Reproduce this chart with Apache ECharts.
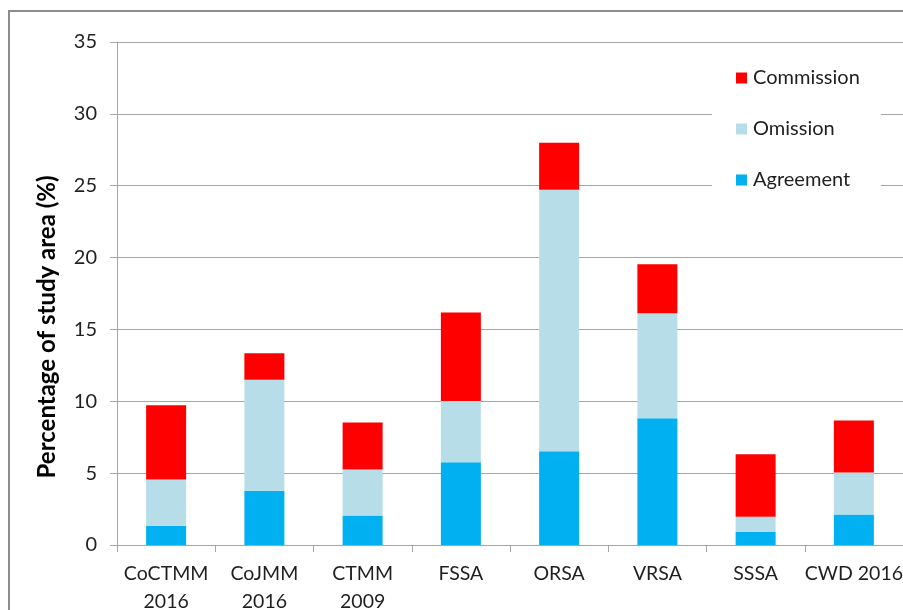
<!DOCTYPE html>
<html>
<head>
<meta charset="utf-8">
<script src="https://cdn.jsdelivr.net/npm/echarts@6/dist/echarts.min.js"></script>
<style>
  html, body { margin: 0; padding: 0; background: #fff; }
  #chart { width: 903px; height: 610px; }
</style>
</head>
<body>
<div id="chart"></div>
<script>
// Study-area maps compared against the reference map
const categories = ['CoCTMM\n2016', 'CoJMM\n2016', 'CTMM\n2009', 'FSSA', 'ORSA', 'VRSA', 'SSSA', 'CWD 2016'];

// Percentage of study area per class (stacked bottom to top)
const agreement  = [1.34, 3.77, 2.06, 5.76, 6.53, 8.82, 0.90, 2.13];
const omission   = [3.22, 7.73, 3.20, 4.26, 18.19, 7.31, 1.07, 2.92];
const commission = [5.16, 1.85, 3.26, 6.16, 3.27, 3.41, 4.35, 3.61];

const yTicks = { min: 0, max: 35, interval: 5 };
const legendOrder = ['Commission', 'Omission', 'Agreement'];

const FONT = 'Lato, "Open Sans", sans-serif';
const GRID_GRAY = '#a6a6a6';
const TEXT = '#1f1f1f';

const chart = echarts.init(document.getElementById('chart'), null, { renderer: 'canvas' });

function barSeries(name, data, color) {
  return {
    name: name,
    type: 'bar',
    stack: 'area',
    data: data,
    barWidth: 40,
    itemStyle: { color: color },
    emphasis: { disabled: true }
  };
}

chart.setOption({
  animation: false,
  backgroundColor: '#fff',
  textStyle: { fontFamily: FONT },
  grid: {
    left: 117, right: 0, top: 42, bottom: 65,
    containLabel: false,
    outerBoundsMode: 'none'
  },
  legend: {
    data: legendOrder,
    orient: 'vertical',
    left: 712,
    top: 55,
    icon: 'rect',
    itemWidth: 11,
    itemHeight: 11,
    itemGap: 31,
    padding: [13, 21, 13, 24],
    backgroundColor: '#fff',
    selectedMode: false,
    textStyle: { fontFamily: FONT, fontSize: 20, color: TEXT, lineHeight: 20, padding: [0, 0, 0, 1] }
  },
  xAxis: {
    type: 'category',
    data: categories,
    axisLine: { lineStyle: { color: GRID_GRAY, width: 1 } },
    axisTick: { show: true, length: 7, alignWithLabel: false, lineStyle: { color: GRID_GRAY } },
    axisLabel: {
      interval: 0,
      margin: 15,
      fontFamily: FONT,
      fontSize: 19.5,
      lineHeight: 28,
      color: TEXT
    }
  },
  yAxis: {
    type: 'value',
    min: yTicks.min,
    max: yTicks.max,
    interval: yTicks.interval,
    axisLine: { show: true, lineStyle: { color: GRID_GRAY, width: 1 } },
    axisTick: { show: true, length: 7, lineStyle: { color: GRID_GRAY } },
    axisLabel: { margin: 20, fontFamily: FONT, fontSize: 20, color: TEXT },
    splitLine: { show: true, lineStyle: { color: GRID_GRAY, width: 1 } }
  },
  graphic: [
    {
      type: 'rect',
      z: 100,
      silent: true,
      shape: { x: 9, y: 11, width: 1000, height: 700 },
      style: { fill: 'none', stroke: '#8c8c8c', lineWidth: 2 }
    },
    {
      type: 'text',
      z: 100,
      silent: true,
      x: 47,
      y: 327,
      rotation: Math.PI / 2,
      style: {
        text: 'Percentage of study area (%)',
        fontFamily: FONT,
        fontSize: 24,
        fontWeight: 'bold',
        fill: '#000',
        align: 'center',
        verticalAlign: 'middle'
      }
    }
  ],
  series: [
    barSeries('Agreement', agreement, '#00b0f0'),
    barSeries('Omission', omission, '#b7dee8'),
    barSeries('Commission', commission, '#ff0000')
  ]
});
</script>
</body>
</html>
